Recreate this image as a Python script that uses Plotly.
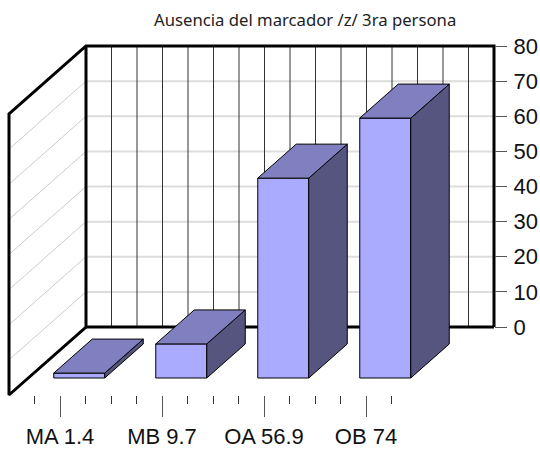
import plotly.graph_objects as go

categories = ["MA 1.4", "MB 9.7", "OA 56.9", "OB 74"]
values = [1.4, 9.7, 56.9, 74]
y_ticks = [0, 10, 20, 30, 40, 50, 60, 70, 80]
title_text = "Ausencia del marcador /z/ 3ra persona"

# oblique projection settings, in axis units
W, H = 540, 452
LEFT, RIGHT, TOP, BOTTOM = 9, 494, 46, 395   # frame edges in the picture
PAD = 3                                      # room so the thick frame is not clipped
PX_U = 25.5
PX_V = 3.5125
SLOTS = 16
DEPTH_X = 77 / PX_U
DEPTH_Y = 68 / PX_V
BAR_WIDTH = 2.0
BAR_FRONT, BAR_BACK = 0.25, 0.75
Y_TOP = y_ticks[-1]


def proj(u, v, d):
    """u along the category axis, v value, d depth (0 front, 1 back wall)."""
    return u + d * DEPTH_X, v - (1 - d) * DEPTH_Y


def line_shape(p0, p1, color, width):
    x0, y0 = proj(*p0)
    x1, y1 = proj(*p1)
    return dict(type="line", layer="below", xref="x", yref="y", x0=x0, y0=y0, x1=x1, y1=y1,
                line=dict(color=color, width=width))


shapes = []
for t in y_ticks[1:-1]:
    shapes.append(line_shape((0, t, 1), (SLOTS, t, 1), "#dddddd", 2))
    shapes.append(line_shape((0, t, 0), (0, t, 1), "#cccccc", 1))
for u in range(1, SLOTS):
    shapes.append(line_shape((u, 0, 1), (u, Y_TOP, 1), "#333333", 1))
# the back edge of the floor passes behind the bars
shapes.append(line_shape((SLOTS, 0, 1), (0, 0, 1), "black", 3))

positions = [2 + 4 * i for i in range(len(categories))]

front_x = [proj(u, 0, BAR_FRONT)[0] for u in positions]
base_y = proj(0, 0, BAR_FRONT)[1]

fig = go.Figure()
fig.add_trace(go.Bar(x=front_x, y=values, base=base_y, width=BAR_WIDTH,
                     marker=dict(color="#AAAAFF", line=dict(color="black", width=1)),
                     hoverinfo="skip", showlegend=False))

# outer frame of the walls
frame_pts = [(SLOTS, 0, 1), (SLOTS, Y_TOP, 1), (0, Y_TOP, 1), (0, Y_TOP, 0), (0, 0, 0), (0, 0, 1), (0, Y_TOP, 1)]
frame_xy = [proj(*p) for p in frame_pts]
fig.add_trace(go.Scatter(x=[p[0] for p in frame_xy], y=[p[1] for p in frame_xy], mode="lines",
                         line=dict(color="black", width=3),
                         hoverinfo="skip", showlegend=False))

top_x, top_y, side_x, side_y = [], [], [], []
for u, v in zip(positions, values):
    l, r = u - BAR_WIDTH / 2, u + BAR_WIDTH / 2
    for p in [(l, v, BAR_FRONT), (l, v, BAR_BACK), (r, v, BAR_BACK), (r, v, BAR_FRONT), (l, v, BAR_FRONT)]:
        x, y = proj(*p)
        top_x.append(x); top_y.append(y)
    top_x.append(None); top_y.append(None)
    for p in [(r, 0, BAR_FRONT), (r, v, BAR_FRONT), (r, v, BAR_BACK), (r, 0, BAR_BACK), (r, 0, BAR_FRONT)]:
        x, y = proj(*p)
        side_x.append(x); side_y.append(y)
    side_x.append(None); side_y.append(None)

fig.add_trace(go.Scatter(x=side_x, y=side_y, mode="lines", fill="toself", fillcolor="#555580",
                         line=dict(color="black", width=1), hoverinfo="skip", showlegend=False))
fig.add_trace(go.Scatter(x=top_x, y=top_y, mode="lines", fill="toself", fillcolor="#8080C0",
                         line=dict(color="black", width=1), hoverinfo="skip", showlegend=False))

minor_ticks = [u for u in range(1, SLOTS) if u not in positions]

fig.update_layout(
    width=W, height=H, margin=dict(l=0, r=0, t=0, b=0),
    paper_bgcolor="white", plot_bgcolor="white", shapes=shapes,
    annotations=[dict(text=title_text, xref="paper", yref="paper", x=305 / W, y=1 - 19 / H,
                      xanchor="center", yanchor="middle", showarrow=False,
                      font=dict(family="Noto Sans", size=16.7, color="#222222"))],
    xaxis=dict(domain=[(LEFT - PAD) / W, (RIGHT + PAD) / W],
               range=[-PAD / PX_U, (RIGHT - LEFT + PAD) / PX_U],
               anchor="free", position=1 - BOTTOM / H,
               tickmode="array", tickvals=positions, ticktext=categories,
               ticks="outside", ticklen=21, tickwidth=1, tickcolor="#555555", showgrid=False,
               zeroline=False, showline=False, tickangle=0, automargin=False,
               tickfont=dict(family="Liberation Sans", size=22, color="#111111"),
               ticklabelstandoff=1,
               minor=dict(tickmode="array", tickvals=minor_ticks, ticks="outside", ticklen=8,
                          tickwidth=1, tickcolor="#333333", showgrid=False)),
    yaxis=dict(domain=[1 - (BOTTOM + PAD) / H, 1 - (TOP - PAD) / H],
               range=[-(BOTTOM - 327 + PAD) / PX_V, Y_TOP + PAD / PX_V],
               anchor="free", position=RIGHT / W, side="right",
               tickmode="array", tickvals=y_ticks,
               ticks="outside", ticklen=12, tickwidth=1, tickcolor="#555555", showgrid=False,
               zeroline=False, showline=False, automargin=False,
               tickfont=dict(family="Liberation Sans", size=22, color="#111111"),
               ticklabelstandoff=2),
)

fig.write_html("out.html", config=dict(displayModeBar=False), post_script="document.body.style.margin='0';")
